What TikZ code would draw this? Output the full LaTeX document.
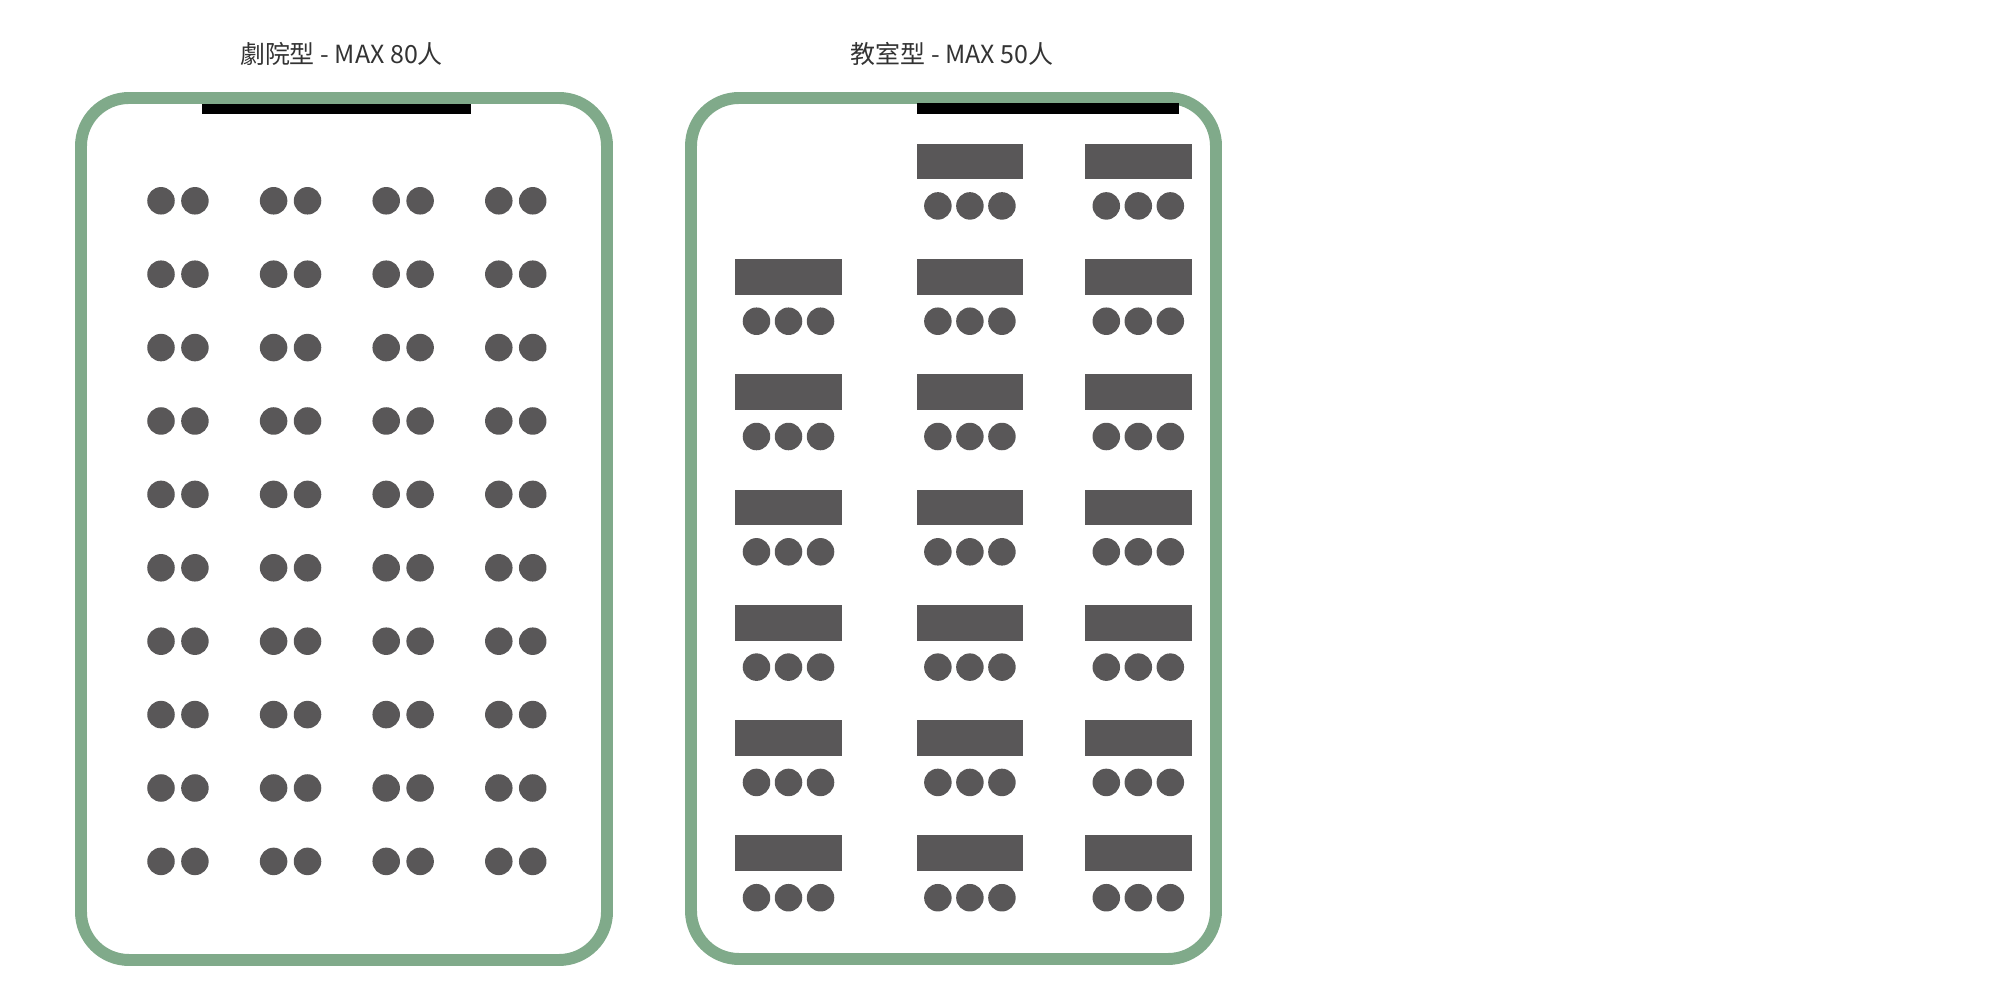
\documentclass[tikz,border=0pt]{standalone}
\usepackage{fontspec}
\setmainfont{Noto Sans CJK TC}
\usetikzlibrary{positioning}
\definecolor{roomgreen}{RGB}{128,170,138}
\definecolor{seatgray}{RGB}{89,87,88}
\definecolor{titlegray}{RGB}{51,51,51}

\begin{document}
\begin{tikzpicture}[x=0.01cm,y=-0.01cm,
  room/.style={draw=roomgreen,line width=3.4pt,rounded corners=0.48cm},
  stage/.style={fill=black,draw=none},
  seat/.style={circle,fill=seatgray,inner sep=0pt,minimum size=0.275cm},
  desk/.style={rectangle,fill=seatgray,inner sep=0pt,minimum width=1.065cm,minimum height=0.357cm},
  title/.style={font=\fontsize{7.1}{8}\selectfont,text=titlegray}]
  \useasboundingbox (0,0) rectangle (2000,989);
  % theatre layout
  \node[title] (theatre) at (341.5,53.5) {劇院型 - MAX 80人};
  \draw[room] (81,98) rectangle (607,960);
  \fill[stage] (201.8,104) rectangle (471,114.3);
  \foreach \r in {0,...,9}
    \foreach \c in {0,...,3}{
      \node[seat] (t-\r-\c-a) at (161+112.6*\c,200.8+73.4*\r) {};
      \node[seat] (t-\r-\c-b) [right=0.05cm of t-\r-\c-a] {};
    }
  % classroom layout
  \node[title] (classroom) at (952,53.5) {教室型 - MAX 50人};
  \draw[room] (691,98) rectangle (1216,959);
  \fill[stage] (916.7,103.5) rectangle (1178.9,113.8);
  \foreach \r in {0,...,6}
    \foreach \c/\x in {0/788.5,1/969.9,2/1138.3}{
      \ifnum\r=0 \ifnum\c=0 \else
        \node[desk] (d-\r-\c) at (\x,161.5+115.3*\r) {};
        \node[seat] (s-\r-\c-2) [below=0.114cm of d-\r-\c] {};
        \node[seat] (s-\r-\c-1) [left=0.031cm of s-\r-\c-2] {};
        \node[seat] (s-\r-\c-3) [right=0.031cm of s-\r-\c-2] {};
      \fi\else
        \node[desk] (d-\r-\c) at (\x,161.5+115.3*\r) {};
        \node[seat] (s-\r-\c-2) [below=0.114cm of d-\r-\c] {};
        \node[seat] (s-\r-\c-1) [left=0.031cm of s-\r-\c-2] {};
        \node[seat] (s-\r-\c-3) [right=0.031cm of s-\r-\c-2] {};
      \fi
    }
\end{tikzpicture}
\end{document}
